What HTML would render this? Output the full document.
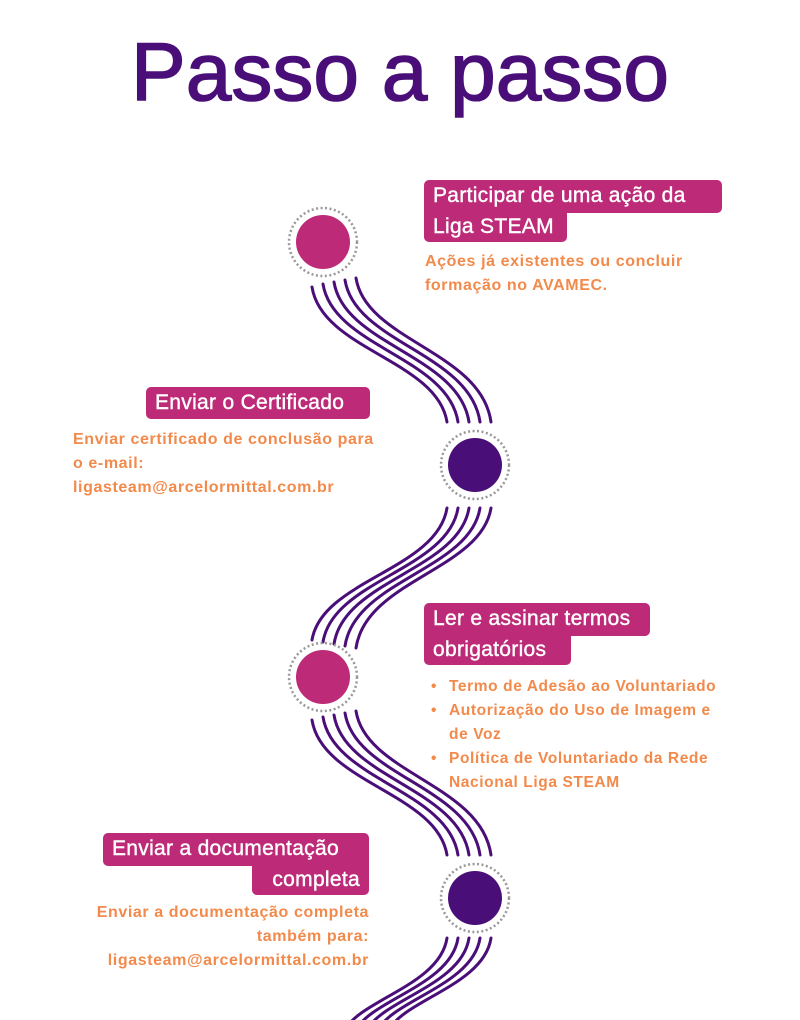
<!DOCTYPE html>
<html><head><meta charset="utf-8"><style>
body{margin:0;width:800px;height:1020px;background:#fff;position:relative;overflow:hidden;font-family:"Liberation Sans",sans-serif}
.t{position:absolute;left:0;width:800px;top:26px;text-align:center;font-size:82px;color:#4a0e78;font-weight:normal;letter-spacing:0px;-webkit-text-stroke:1.5px #4a0e78}
.b{position:absolute;background:#bd2a78;color:#fff;font-size:21px;line-height:30px;white-space:nowrap;padding:0 9px;box-sizing:border-box;letter-spacing:.3px;-webkit-text-stroke:.4px #fff}
.o{position:absolute;color:#f28a4b;font-weight:bold;font-size:16px;line-height:24px;letter-spacing:.6px;white-space:nowrap}
.o div{position:relative;padding-left:20px}
.o div.bl:before{content:"•";position:absolute;left:2px}
svg{position:absolute;left:0;top:0}
</style></head><body>
<div class="t">Passo a passo</div>
<svg width="800" height="1020">
<g fill="none" stroke="#4a0e78" stroke-width="3" stroke-linecap="round">
<path d="M312 287 C322 350 437 360 447 422"/><path d="M323 284 C333 347 448 357 458 422"/><path d="M334 282 C344 345 459 355 469 422"/><path d="M345 280 C355 343 470 353 480 422"/><path d="M356 278 C366 341 481 351 491 422"/>
<path d="M447 508 C437 570 322 580 312 640"/><path d="M458 508 C448 570 333 580 323 642"/><path d="M469 508 C459 570 344 580 334 644"/><path d="M480 508 C470 570 355 580 345 646"/><path d="M491 508 C481 570 366 580 356 648"/>
<path d="M312 720 C322 783 437 793 447 855"/><path d="M323 717 C333 780 448 790 458 855"/><path d="M334 715 C344 778 459 788 469 855"/><path d="M345 713 C355 776 470 786 480 855"/><path d="M356 711 C366 774 481 784 491 855"/>
<path d="M447 938 C440 985 360 1000 345 1030"/><path d="M458 938 C451 985 371 1000 356 1030"/><path d="M469 938 C462 985 382 1000 367 1030"/><path d="M480 938 C473 985 393 1000 378 1030"/><path d="M491 938 C484 985 404 1000 389 1030"/>
</g>
<g fill="none" stroke="#999" stroke-width="2.5" stroke-dasharray="2 2.5">
<circle cx="323" cy="242" r="34"/><circle cx="475" cy="465" r="34"/><circle cx="323" cy="677" r="34"/><circle cx="475" cy="898" r="34"/>
</g>
<circle cx="323" cy="242" r="27" fill="#bd2a78"/><circle cx="475" cy="465" r="27" fill="#4a0e78"/><circle cx="323" cy="677" r="27" fill="#bd2a78"/><circle cx="475" cy="898" r="27" fill="#4a0e78"/>
</svg>
<div class="b" style="left:424px;top:180px;width:298px;height:33px;border-radius:5px 5px 5px 0;line-height:32px">Participar de uma ação da</div>
<div class="b" style="left:424px;top:212px;width:143px;height:30px;border-radius:0 0 5px 5px">Liga STEAM</div>
<div class="o" style="left:425px;top:250px">Ações já existentes ou concluir<br>formação no AVAMEC.</div>

<div class="b" style="left:146px;top:387px;width:224px;height:32px;border-radius:5px;line-height:32px">Enviar o Certificado</div>
<div class="o" style="left:73px;top:428px">Enviar certificado de conclusão para<br>o e-mail:<br>ligasteam@arcelormittal.com.br</div>

<div class="b" style="left:424px;top:603px;width:226px;height:33px;border-radius:5px 5px 5px 0;line-height:32px">Ler e assinar termos</div>
<div class="b" style="left:424px;top:635px;width:147px;height:30px;border-radius:0 0 5px 5px">obrigatórios</div>
<div class="o" style="left:429px;top:675px;font-size:15.5px">
<div class="bl">Termo de Adesão ao Voluntariado</div>
<div class="bl">Autorização do Uso de Imagem e</div>
<div>de Voz</div>
<div class="bl">Política de Voluntariado da Rede</div>
<div>Nacional Liga STEAM</div>
</div>

<div class="b" style="left:103px;top:833px;width:266px;height:33px;border-radius:5px 5px 0 5px;line-height:32px">Enviar a documentação</div>
<div class="b" style="left:252px;top:865px;width:117px;height:30px;border-radius:0 0 5px 5px;text-align:right">completa</div>
<div class="o" style="right:431px;top:901px;text-align:right">Enviar a documentação completa<br>também para:<br>ligasteam@arcelormittal.com.br</div>
</body></html>
